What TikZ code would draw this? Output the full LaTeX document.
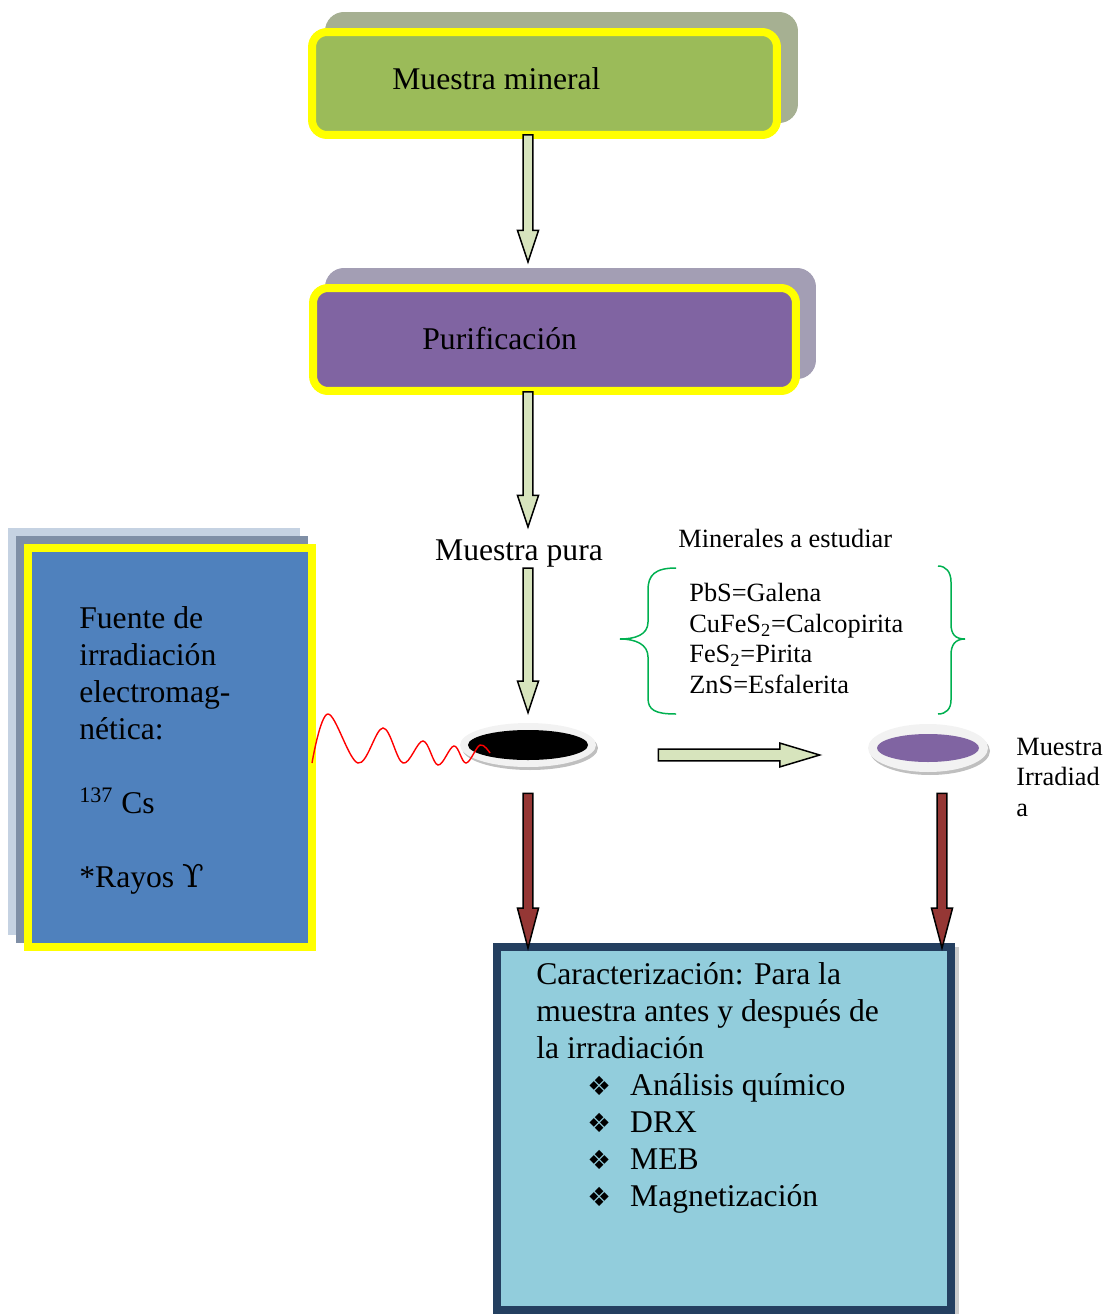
\documentclass[tikz,border=0pt]{standalone}
\usepackage{fontspec}
\setmainfont{Liberation Serif}
\newfontfamily\symfont{DejaVu Sans}
\newfontfamily\grkfont{DejaVu Serif}
\usepackage{tikz}
\usetikzlibrary{calc, shapes.geometric, shadows}
\definecolor{verdecaja}{HTML}{9BBB59}
\definecolor{verdesombra}{HTML}{A6B092}
\definecolor{moradocaja}{HTML}{8064A2}
\definecolor{moradosombra}{HTML}{A39EB4}
\definecolor{azulcaja}{HTML}{4F81BD}
\definecolor{azulsombra}{HTML}{7F8FA6}
\definecolor{azulclaro}{HTML}{C5D2E2}
\definecolor{celeste}{HTML}{92CDDC}
\definecolor{marino}{HTML}{243F60}
\definecolor{verdeflecha}{HTML}{D7E4BD}
\definecolor{rojoflecha}{HTML}{953735}
\definecolor{verdellave}{HTML}{00B050}
\definecolor{amarillo}{HTML}{FFFF00}
\definecolor{borde}{HTML}{F2F2F2}
\definecolor{bordesombra}{HTML}{BFBFBF}
\newcommand{\vineta}{\makebox[24.4pt][l]{\symfont\fontsize{15}{15}\selectfont ❖}}

\begin{document}
\begin{tikzpicture}[x=0.02cm, y=-0.02cm,
			caja/.style={draw=amarillo, line width=1.6mm, inner sep=0pt},
			txtgrande/.style={font=\fontsize{18}{21}\selectfont, inner sep=0pt, align=left},
			txtchico/.style={font=\fontsize{15}{17.3}\selectfont, inner sep=0pt, align=left},
			plato/.style={ellipse, fill=borde, inner sep=0pt,
				copy shadow={shadow xshift=0.4mm, shadow yshift=-0.6mm, fill=bordesombra, draw=none}},
			flecha/.style n args={3}{to path={
				($(\tikztostart)!#1!90:(\tikztotarget)$) --
				($($(\tikztotarget)!#3!(\tikztostart)$)!#1!-90:(\tikztostart)$) --
				($($(\tikztotarget)!#3!(\tikztostart)$)!#2!-90:(\tikztostart)$) --
				(\tikztotarget) --
				($($(\tikztotarget)!#3!(\tikztostart)$)!#2!90:(\tikztostart)$) --
				($($(\tikztotarget)!#3!(\tikztostart)$)!#1!90:(\tikztostart)$) --
				($(\tikztostart)!#1!-90:(\tikztotarget)$) -- cycle}},
			flechav/.style={flecha={2.8pt}{6pt}{18pt}, draw=black, line width=0.85pt, fill=verdeflecha},
			flechah/.style={flecha={3.4pt}{6.8pt}{22.7pt}, draw=black, line width=0.85pt, fill=verdeflecha},
			flechar/.style={flecha={2.8pt}{6pt}{22.7pt}, draw=black, line width=0.85pt, fill=rojoflecha}]
			\useasboundingbox (0,0) rectangle (1104,1314);
			%Cajas
			\node[caja, fill=verdecaja, rounded corners=3mm, minimum width=93mm, minimum height=20.6mm,
				copy shadow={shadow xshift=3.4mm, shadow yshift=3.2mm, fill=verdesombra, draw=verdesombra}] (mineral) at (544.5,83.5) {};
			\node[txtgrande, anchor=base west] (mineraltxt) at (392,90) {Muestra mineral};
			\node[caja, fill=moradocaja, rounded corners=3mm, minimum width=96.6mm, minimum height=20.6mm,
				copy shadow={shadow xshift=3.2mm, shadow yshift=3.2mm, fill=moradosombra, draw=moradosombra}] (purif) at (554.5,339.5) {};
			\node[txtgrande, anchor=base west] (puriftxt) at (422,349) {Purificación};
			\node[caja, fill=azulcaja, minimum width=56.8mm, minimum height=79.8mm,
				copy shadow={shadow xshift=-3.2mm, shadow yshift=3.2mm, fill=azulclaro, draw=azulclaro},
				copy shadow={shadow xshift=-1.6mm, shadow yshift=1.6mm, fill=azulsombra, draw=azulsombra}] (fuente) at (170,747.5) {};
			\node[txtgrande, anchor=base west] (fuentetxt) at (79,887)
				{Fuente de\\irradiación\\electromag-\\nética:\\[21pt]\textsuperscript{137} Cs\\[21pt]*Rayos {\grkfont ϒ}};
			\node[caja, draw=marino, fill=celeste, minimum width=90.8mm, minimum height=72.6mm,
				copy shadow={shadow xshift=0.8mm, shadow yshift=-0.8mm, fill=gray!40, draw=gray!40}] (carac) at (724,1128.5) {};
			\node[txtgrande, anchor=base west] (caractxt) at (536,1058)
				{Caracterización: Para la\\muestra antes y después de\\la irradiación};
			\node[txtgrande, anchor=base west] (lista) at (587,1206)
				{\vineta Análisis químico\\\vineta DRX\\\vineta MEB\\\vineta Magnetización};
			%Muestras
			\node[txtgrande, anchor=base] (pura) at (519,560) {Muestra pura};
			\node[plato, minimum width=27.2mm, minimum height=8.8mm] (disco) at (528,745) {};
			\fill[black] (disco) ellipse (60 and 15);
			\node[plato, minimum width=24mm, minimum height=9.6mm] (discoirr) at (928,748) {};
			\fill[moradocaja] (discoirr) ellipse (51 and 14);
			\node[txtchico, anchor=base west] (irr) at (1016,816) {Muestra\\Irradiad\\a};
			%Minerales
			\node[txtchico, anchor=base west] (minerales) at (678,547) {Minerales a estudiar};
			\node[txtchico, anchor=base west] (lista2) at (689,693)
				{PbS=Galena\\CuFeS\textsubscript{2}=Calcopirita\\FeS\textsubscript{2}=Pirita\\ZnS=Esfalerita};
			\draw[verdellave, line width=0.85pt] (676,568) .. controls (655,568) and (648,575) .. (648,590) -- (648,622)
				.. controls (648,635) and (635,639) .. (620,639) .. controls (635,639) and (648,644) .. (648,657) -- (648,698)
				.. controls (648,710) and (655,714) .. (676,714);
			\draw[verdellave, line width=0.85pt] (938,566) .. controls (946,566) and (951,572) .. (951,582) -- (951,624)
				.. controls (951,634) and (955,639) .. (965,639) .. controls (955,639) and (951,645) .. (951,655) -- (951,700)
				.. controls (951,709) and (946,714) .. (938,714);
			%Onda
			\draw[red, line width=0.8pt] plot[smooth, tension=0.6] coordinates {(312,763) (328,714) (358,763) (383,728)
				(403,763) (423,741) (438,765) (454,746) (466,763) (480,745) (490,753)};
			%Flechas
			\draw[flechav] ($(mineral.south -| disco)+(0,-4)$) to ($(purif.north -| disco)+(0,-22)$);
			\draw[flechav] ($(purif.south -| disco)+(0,-3)$) to ($(pura.north -| disco)+(0,-12)$);
			\draw[flechav] ($(pura.south -| disco)+(0,1)$) to ($(disco.north)+(0,-10)$);
			\draw[flechah] ($(disco.east)+(62,10)$) to ($(discoirr.west)+(-48,7)$);
			\draw[flechar] ($(disco.south)+(0,26)$) to ($(carac.north -| disco)+(0,5)$);
			\draw[flechar] ($(discoirr.south)+(14,21)$) to ($(carac.north -| discoirr)+(14,5)$);
		\end{tikzpicture}
\end{document}
